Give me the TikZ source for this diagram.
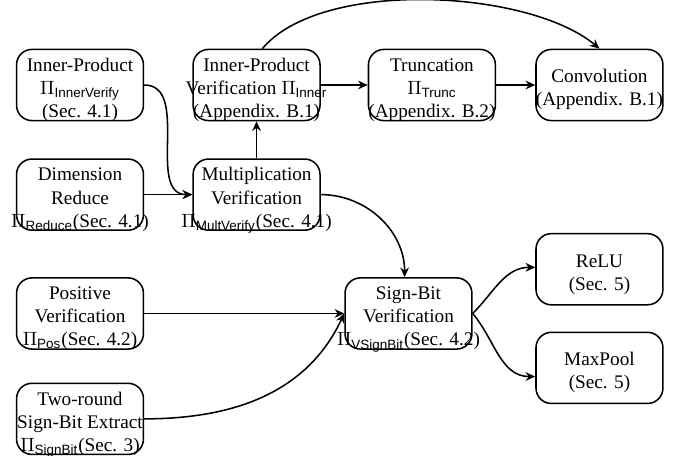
\documentclass[tikz,border=0pt]{standalone}
\usepackage{amsmath}
\usepackage{fontspec}
\setmainfont{Liberation Serif}
\setsansfont{Liberation Sans}
\usetikzlibrary{arrows.meta,positioning}
\newcommand{\prot}[1]{\ensuremath{\Pi_{\textsf{#1}}}}
\newcommand{\boxlines}[1]{\hbox to 0pt{\hss\raisebox{-5pt}[0pt][0pt]{\begin{tabular}{@{}c@{}}#1\end{tabular}}\hss}}
\tikzset{
 protobox/.style={draw,thick,rounded corners=8pt,minimum width=66pt,minimum height=37pt,inner sep=0pt},
 link/.style={-{Stealth[length=5pt,width=4.5pt]},thick}
}
\begin{document}
\begin{tikzpicture}
  \useasboundingbox (0,0) rectangle (351.5pt,-237.1pt);

  \node[protobox] (innerprod) at (41.6pt,-44.2pt) {\boxlines{Inner-Product\\ \prot{InnerVerify}\\ (Sec. 4.1)}};
  \node[protobox,right=25pt of innerprod] (innerver) {\boxlines{Inner-Product\\ Verification \prot{Inner}\\ (Appendix. B.1)}};
  \node[protobox,right=24.4pt of innerver] (trunc) {\boxlines{Truncation\\ \prot{Trunc}\\ (Appendix. B.2)}};
  \node[protobox,right=20.3pt of trunc] (conv) {\boxlines{Convolution\\ (Appendix. B.1)}};
  \node[protobox,below=19.2pt of innerprod] (dimred) {\boxlines{Dimension\\ Reduce\\ \prot{Reduce}(Sec. 4.1)}};
  \node[protobox,below=19.2pt of innerver] (multver) {\boxlines{Multiplication\\ Verification\\ \prot{MultVerify}(Sec. 4.1)}};
  \node[protobox,below=24pt of dimred] (positive) {\boxlines{Positive\\ Verification\\ \prot{Pos}(Sec. 4.2)}};
  \node[protobox,below=17pt of positive] (tworound) {\boxlines{Two-round\\ Sign-Bit Extract\\ \prot{SignBit}(Sec. 3)}};
  \node[protobox,right=104pt of positive] (signbit) {\boxlines{Sign-Bit\\ Verification\\ \prot{VSignBit}(Sec. 4.2)}};
  \node[protobox,below=58pt of conv] (relu) {\boxlines{ReLU\\ (Sec. 5)}};
  \node[protobox,below=13.5pt of relu] (maxpool) {\boxlines{MaxPool\\ (Sec. 5)}};

  \draw[link] (innerprod.east) to[out=0,in=180] (multver.west);
  \draw[link] (dimred) -- (multver);
  \draw[link] (multver) -- (innerver);
  \draw[link] (innerver) -- (trunc);
  \draw[link] (trunc) -- (conv);
  \draw[link] ([xshift=3pt]innerver.north) to[out=50,in=140,looseness=.7] (conv.north);
  \draw[link] (multver.east) to[out=0,in=90] ([xshift=-2pt]signbit.north);
  \draw[link] (positive) -- (signbit);
  \draw[link] (tworound.east) to[out=0,in=245] (signbit.west);
  \draw[link] (signbit.east) to[out=45,in=180] ([yshift=1pt]relu.west);
  \draw[link] (signbit.east) to[out=-50,in=180] ([yshift=-4.5pt]maxpool.west);
\end{tikzpicture}
\end{document}
